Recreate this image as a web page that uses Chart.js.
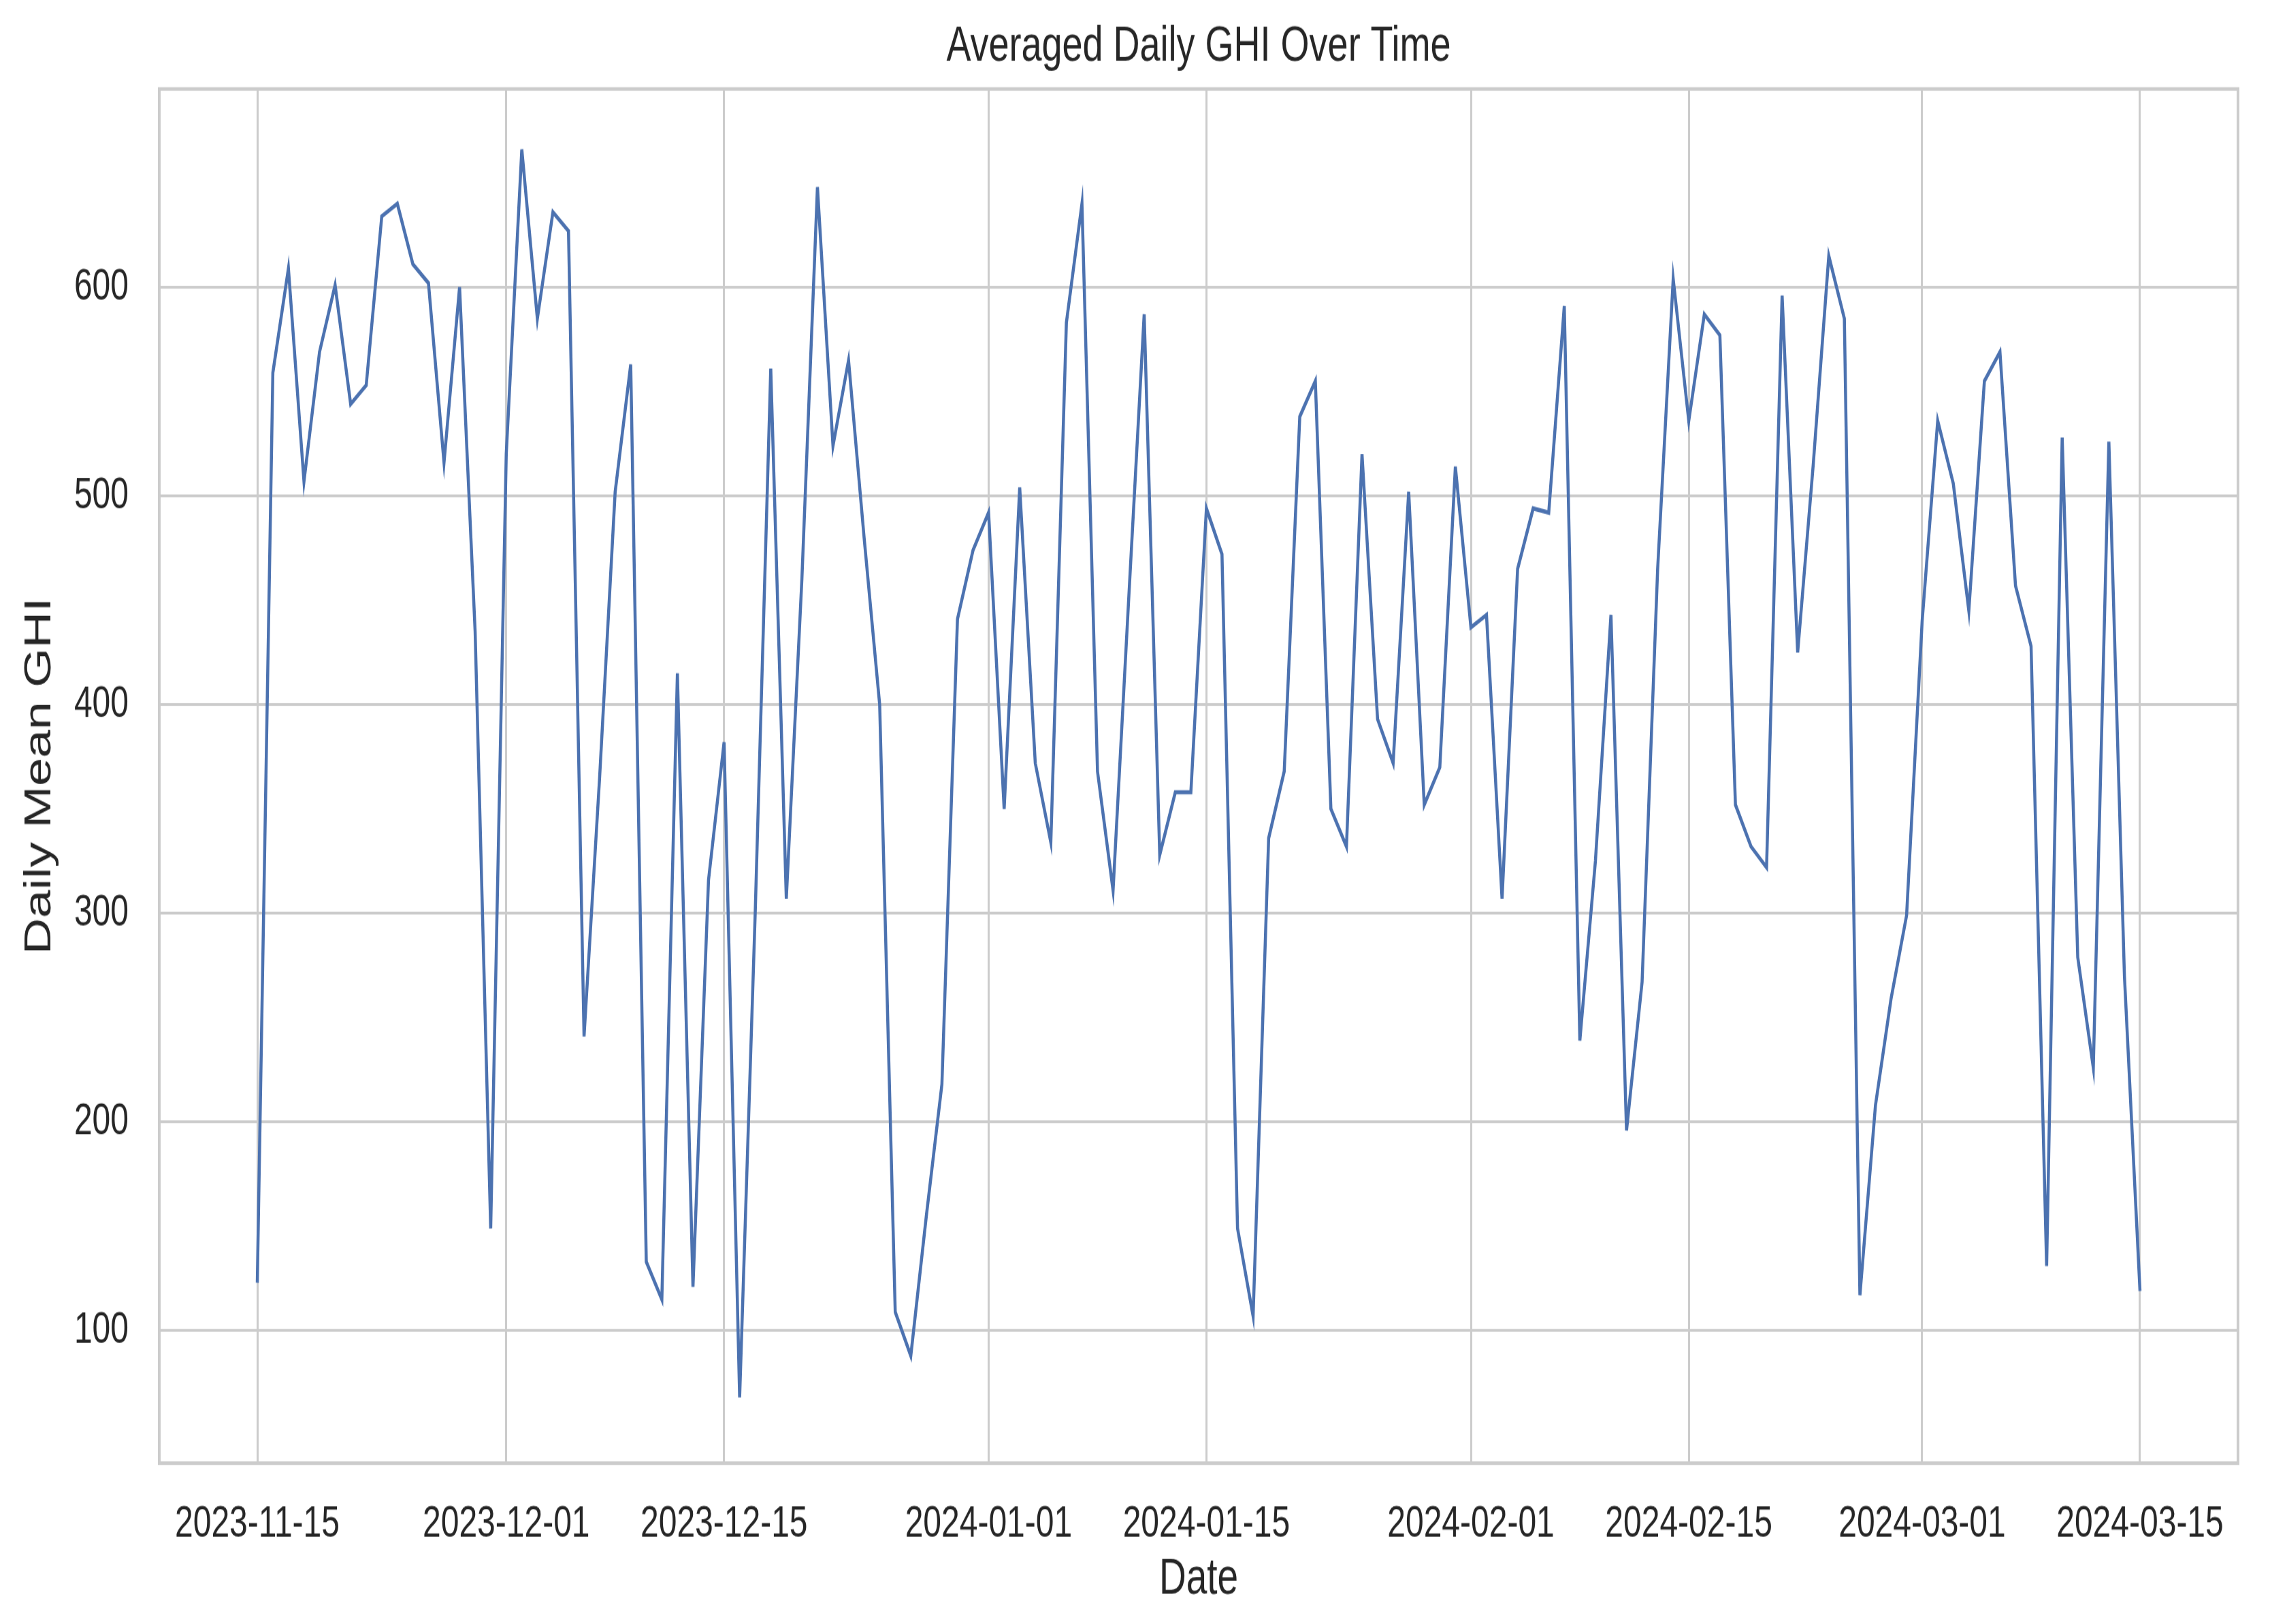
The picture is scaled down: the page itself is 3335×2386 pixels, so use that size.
<!DOCTYPE html>
<html>
<head>
<meta charset="utf-8">
<title>Averaged Daily GHI Over Time</title>
<script src="https://cdn.jsdelivr.net/npm/chart.js@4.4.1/dist/chart.umd.min.js"></script>
<style>
  html, body { margin: 0; padding: 0; background: #fff; }
</style>
</head>
<body>
<!-- the reference is drawn stretched vertically, so the canvas is drawn short and scaled up by CSS -->
<canvas id="ghiChart" width="3335" height="1767" style="width:3335px;height:2386px;"></canvas>
<script>
// first day of the series, one value per day from there on
var startDate = '2023-11-15';

// daily mean GHI, 2023-11-15 .. 2024-03-15
var ghiValues = [
  123, 559, 609, 507, 569, 601, 544, 553, 634, 640, 611, 602, 516, 600, 435, 149,
  520, 666, 585, 636, 627, 241, 365, 502, 563, 133, 115, 415, 121, 316, 382, 68,
  300, 561, 307, 460, 648, 524, 565, 480, 400, 109, 88, 155, 218, 441, 474,
  492, 350, 504, 372, 334, 583, 640, 368, 311, 450, 587, 328, 358, 358, 494,
  472, 149, 107, 336, 368, 538, 555, 350, 332, 520, 393, 372, 502, 352, 370, 514,
  437, 443, 307, 465, 494, 492, 591, 239, 325, 443, 196, 267, 465, 604, 536, 587, 577,
  352, 332, 322, 596, 425, 515, 615, 585, 117, 208, 259, 299, 440,
  536, 506, 445, 555, 569, 457, 428, 131, 528, 279, 226, 526, 270, 119
];

var xTickLabels = ['2023-11-15', '2023-12-01', '2023-12-15', '2024-01-01', '2024-01-15',
                   '2024-02-01', '2024-02-15', '2024-03-01', '2024-03-15'];
var yTickValues = [100, 200, 300, 400, 500, 600];

var textColor = '#262626';
var gridColor = '#cccccc';
var fontFamily = "'Liberation Sans', Arial, sans-serif";

// one date string per value
var start = new Date(startDate + 'T00:00:00Z');
var dates = ghiValues.map(function (v, i) {
  var d = new Date(start.getTime() + i * 86400000);
  return d.toISOString().slice(0, 10);
});
var points = ghiValues.map(function (v, i) { return { x: i, y: v }; });

// grey frame round the plot area, like the seaborn spines
var framePlugin = {
  id: 'frame',
  afterDatasetsDraw: function (chart) {
    var a = chart.chartArea, c = chart.ctx;
    c.save();
    c.strokeStyle = gridColor;
    c.lineWidth = 4;
    c.strokeRect(a.left, a.top, a.right - a.left, a.bottom - a.top);
    c.restore();
  }
};

var ctx = document.getElementById('ghiChart').getContext('2d');
var ghiChart = new Chart(ctx, {
  type: 'line',
  data: {
    datasets: [{
      label: 'Daily Mean GHI',
      data: points,
      borderColor: '#4c72b0',
      borderWidth: 4.5,
      pointRadius: 0,
      fill: false,
      tension: 0
    }]
  },
  options: {
    responsive: false,
    animation: false,
    devicePixelRatio: 1,
    layout: { padding: { left: 0, right: 47, top: 0, bottom: 0 } },
    plugins: {
      legend: { display: false },
      tooltip: { enabled: false },
      title: {
        display: true,
        fullSize: false,
        text: 'Averaged Daily GHI Over Time',
        color: textColor,
        font: { family: fontFamily, size: 54, weight: 'normal' },
        padding: { top: 19, bottom: 13 }
      }
    },
    scales: {
      x: {
        type: 'linear',
        min: -6.3,
        max: 127.3,
        afterFit: function (s) { s.height = 175; },
        afterBuildTicks: function (s) {
          s.ticks = xTickLabels.map(function (t) { return { value: dates.indexOf(t) }; });
        },
        ticks: {
          autoSkip: false,
          maxRotation: 0,
          minRotation: 0,
          padding: 38,
          color: textColor,
          font: { family: fontFamily, size: 48 },
          callback: function (value, index) { return xTickLabels[index]; }
        },
        grid: { color: gridColor, lineWidth: 3, drawTicks: false },
        border: { display: false },
        title: {
          display: true,
          text: 'Date',
          color: textColor,
          font: { family: fontFamily, size: 55 },
          padding: { top: 0, bottom: 15 }
        }
      },
      y: {
        min: 36.5,
        max: 695,
        afterFit: function (s) { s.width = 234; },
        afterBuildTicks: function (s) {
          s.ticks = yTickValues.map(function (v) { return { value: v }; });
        },
        ticks: {
          padding: 45,
          color: textColor,
          font: { family: fontFamily, size: 48 },
          callback: function (value) { return String(value); }
        },
        grid: { color: gridColor, lineWidth: 3, drawTicks: false },
        border: { display: false },
        title: {
          display: true,
          text: 'Daily Mean GHI',
          color: textColor,
          font: { family: fontFamily, size: 55 },
          padding: { top: 26, bottom: 0 }
        }
      }
    }
  },
  plugins: [framePlugin]
});
</script>
</body>
</html>
